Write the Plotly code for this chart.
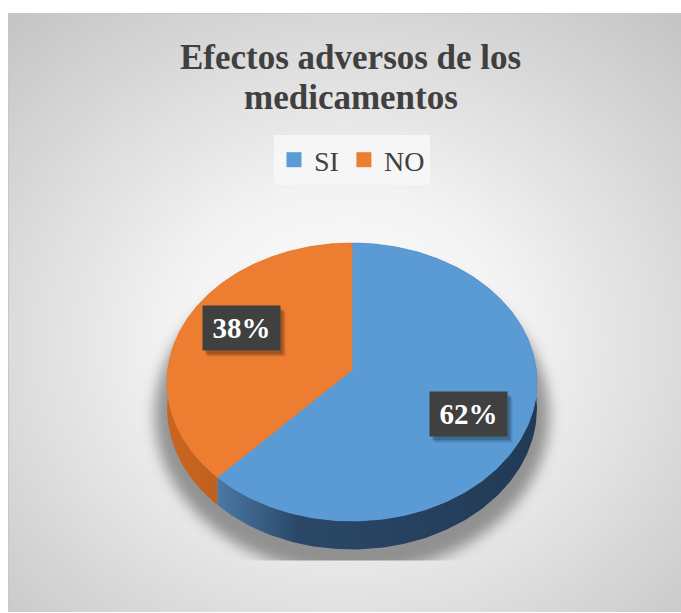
import base64
import numpy as np
import plotly.graph_objects as go

# ---- data ----
categories = ["SI", "NO"]
values = [62, 38]
title_lines = ["Efectos adversos de los", "medicamentos"]

# ---- styling ----
top_colors = ["#5B9BD5", "#ED7D31"]
side_scales = [
    [[0, "#4a79a6"], [0.25, "#2b4868"], [1, "#213a55"]],
    [[0, "#c9651f"], [1, "#a9521a"]],
]
TEXT_COLOR = "#404040"
W, H = 681, 613

# 3-D pie geometry (pixel space)
CX, CY = 352, 370          # apex of the top face
RX, RY = 184.3, 138        # semi-axes before perspective
PERSP = 0.0863             # front is drawn slightly larger than the back
DEPTH = 26                 # height of the pie wall
LABEL_RX, LABEL_RY = 0.66, 0.84   # where the data labels sit inside each slice


def project(phi, rx=1.0, ry=None):
    """Map an angle (clockwise from 12 o'clock) on the pie disk to the page."""
    ry = rx if ry is None else ry
    u = rx * np.sin(phi)
    w = -ry * np.cos(phi)
    s = 1.0 / (1.0 - PERSP * w)
    return CX + RX * u * s, CY + RY * w * s, s


# chart-area background: radial grey gradient with a soft shadow under the pie
bx0, by0, bx1, by1 = 8, 13, 681, 612
bw, bh = bx1 - bx0, by1 - by0
_, front_y, front_s = project(np.pi)
shadow_cut = front_y + DEPTH * front_s + 11 - by0
svg = f"""<svg xmlns='http://www.w3.org/2000/svg' width='{bw}' height='{bh}' viewBox='0 0 {bw} {bh}'>
<defs>
<radialGradient id='bg' cx='0.5' cy='0.55' r='0.72'>
<stop offset='0' stop-color='#ffffff'/>
<stop offset='0.35' stop-color='#f3f3f3'/>
<stop offset='1' stop-color='#c6c6c6'/>
</radialGradient>
<filter id='blur' x='-20%' y='-20%' width='140%' height='140%'><feGaussianBlur stdDeviation='7'/></filter>
<clipPath id='clip'><rect x='0' y='0' width='{bw}' height='{shadow_cut:.1f}'/></clipPath>
</defs>
<rect x='0.5' y='0.5' width='{bw}' height='{bh}' fill='url(#bg)' stroke='#c8c8c8' stroke-width='1'/>
<g clip-path='url(#clip)'>
<ellipse cx='{CX - bx0}' cy='{CY + 45 - by0}' rx='{RX + 13}' ry='{RY + 21}' fill='#000' fill-opacity='0.38' filter='url(#blur)'/>
</g>
</svg>"""
bg_src = "data:image/svg+xml;base64," + base64.b64encode(svg.encode()).decode()

fig = go.Figure()

total = float(sum(values))
bounds = np.concatenate([[0.0], np.cumsum(values) / total]) * 2 * np.pi

# walls first, then the top faces over them
for i, cat in enumerate(categories):
    phi = np.linspace(bounds[i], bounds[i + 1], 240)
    x, y, s = project(phi)
    xs = np.concatenate([x, x[::-1], x[:1]])
    ys = np.concatenate([y, (y + DEPTH * s)[::-1], y[:1]])
    fig.add_trace(go.Scatter(
        x=xs, y=ys, mode="lines", fill="toself", line=dict(width=0),
        fillgradient=dict(type="horizontal", colorscale=side_scales[i]),
        hoverinfo="skip", showlegend=False))

for i, cat in enumerate(categories):
    phi = np.linspace(bounds[i], bounds[i + 1], 240)
    x, y, _ = project(phi)
    xs = np.concatenate([[CX], x, [CX]])
    ys = np.concatenate([[CY], y, [CY]])
    fig.add_trace(go.Scatter(
        x=xs, y=ys, mode="lines", fill="toself", line=dict(width=0.6, color=top_colors[i]),
        fillcolor=top_colors[i], name=cat, hoverinfo="name", showlegend=False))

# legend entries (square swatches)
for i, cat in enumerate(categories):
    fig.add_trace(go.Scatter(
        x=[None], y=[None], mode="markers", name=cat,
        marker=dict(symbol="square", size=15, color=top_colors[i])))

# percentage labels in dark boxes
for i, v in enumerate(values):
    mid = 0.5 * (bounds[i] + bounds[i + 1])
    lx, ly, _ = project(mid, LABEL_RX, LABEL_RY)
    txt = f"{round(100 * v / total)}%"
    common = dict(x=float(lx), y=float(ly), xref="x", yref="y", showarrow=False,
                  width=75, height=42, font=dict(family="Liberation Serif", size=29,
                                                 color="white", weight="bold"))
    fig.add_annotation(text=" ", bgcolor="rgba(0,0,0,0.22)", xshift=3, yshift=-4, **common)
    fig.add_annotation(text=" ", bgcolor="rgba(0,0,0,0.12)", xshift=5, yshift=-6, **common)
    fig.add_annotation(text=txt, bgcolor="#404040", **common)

# title
for k, line in enumerate(title_lines):
    fig.add_annotation(text=line, x=W / 2 + 10, y=57 + 40 * k, xref="x", yref="y",
                       showarrow=False,
                       font=dict(family="Liberation Serif", size=35, color=TEXT_COLOR,
                                 weight="bold"))

fig.update_layout(
    width=W, height=H, margin=dict(l=0, r=0, t=0, b=0),
    paper_bgcolor="white", plot_bgcolor="rgba(0,0,0,0)",
    xaxis=dict(range=[0, W], visible=False, fixedrange=True),
    yaxis=dict(range=[H, 0], visible=False, fixedrange=True),
    images=[dict(source=bg_src, xref="x", yref="y", x=bx0, y=by0,
                 sizex=bw, sizey=bh, sizing="stretch", layer="below",
                 xanchor="left", yanchor="top")],
    legend=dict(orientation="h", x=352 / W, xanchor="center", y=1 - 135 / H,
                yanchor="top", bgcolor="#f6f6f6", borderwidth=0,
                font=dict(family="Liberation Serif", size=28, color=TEXT_COLOR),
                itemclick=False, itemdoubleclick=False),
    showlegend=True,
)

fig.write_html("out.html")
